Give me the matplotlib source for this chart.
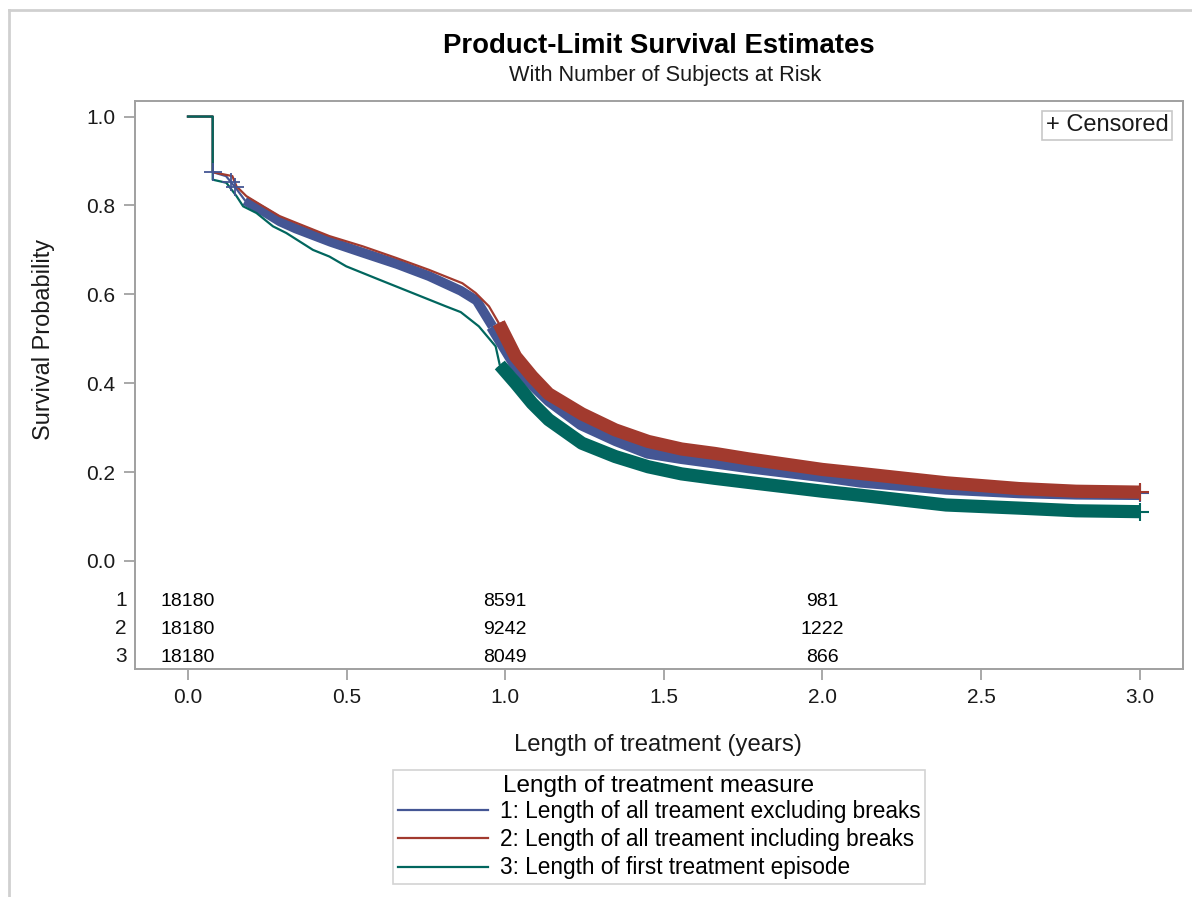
import numpy as np
import matplotlib.pyplot as plt
from matplotlib.lines import Line2D

plt.rcParams['font.family'] = ['Liberation Sans', 'DejaVu Sans']

# survival curves (time in years, survival probability)
t1 = [0.0, 0.078, 0.078, 0.12, 0.15, 0.18, 0.24, 0.29, 0.34, 0.45, 0.55, 0.66, 0.76, 0.86, 0.91,
      0.96, 1.03, 1.085, 1.14, 1.24, 1.35, 1.45, 1.556, 1.661, 1.77, 2.0, 2.12, 2.39, 2.62, 2.8, 3.0]
s1 = [1.0, 1.0, 0.875, 0.866, 0.84, 0.811, 0.786, 0.764, 0.748, 0.718, 0.694, 0.668, 0.641, 0.608, 0.586,
      0.528, 0.446, 0.400, 0.362, 0.309, 0.273, 0.245, 0.233, 0.223, 0.212, 0.192, 0.180, 0.164, 0.156, 0.153, 0.152]

t2 = [0.0, 0.078, 0.078, 0.14, 0.153, 0.184, 0.237, 0.289, 0.341, 0.446, 0.551, 0.656, 0.76, 0.865, 0.907,
      0.949, 0.98, 1.033, 1.085, 1.137, 1.242, 1.347, 1.451, 1.556, 1.661, 1.765, 2.0, 2.12, 2.39, 2.62, 2.8, 3.0]
s2 = [1.0, 1.0, 0.875, 0.866, 0.843, 0.821, 0.798, 0.776, 0.761, 0.731, 0.708, 0.682, 0.655, 0.625, 0.603,
      0.573, 0.535, 0.460, 0.415, 0.376, 0.331, 0.295, 0.269, 0.252, 0.242, 0.230, 0.206, 0.197, 0.176, 0.163, 0.157, 0.155]

t3 = [0.0, 0.078, 0.078, 0.121, 0.153, 0.174, 0.216, 0.268, 0.31, 0.394, 0.446, 0.499, 0.603, 0.708, 0.813,
      0.86, 0.917, 0.97, 0.983, 1.033, 1.085, 1.137, 1.242, 1.347, 1.451, 1.556, 1.661, 1.765, 2.0, 2.12, 2.39, 2.62, 2.8, 3.0]
s3 = [1.0, 1.0, 0.858, 0.851, 0.821, 0.798, 0.783, 0.753, 0.738, 0.700, 0.685, 0.663, 0.633, 0.603, 0.573,
      0.560, 0.528, 0.483, 0.441, 0.400, 0.355, 0.318, 0.265, 0.235, 0.212, 0.196, 0.186, 0.177, 0.157, 0.148, 0.126, 0.119, 0.113, 0.111]

# where the dense censoring marks begin / get thicker for each group
band_start = [0.18, 0.98, 0.983]
band_thick = [0.95, 0.98, 0.983]
early_censor_t1 = [0.078, 0.135, 0.148]

labels = ['1: Length of all treament excluding breaks',
          '2: Length of all treament including breaks',
          '3: Length of first treatment episode']
colors = ['#445694', '#A23A2E', '#01665E']

risk_times = [0, 1, 2]
at_risk = [[18180, 8591, 981],
           [18180, 9242, 1222],
           [18180, 8049, 866]]
risk_rows = [-0.090, -0.153, -0.216]

fig = plt.figure(figsize=(11.92, 8.97), dpi=100)
ax = fig.add_axes([135 / 1192, 1 - 669 / 897, (1183 - 135) / 1192, (669 - 101) / 897])

curves = [(t1, s1), (t2, s2), (t3, s3)]
for i, (t, s) in enumerate(curves):
    t = np.array(t)
    s = np.array(s)
    ax.plot(t, s, color=colors[i], lw=1.6, label=labels[i], zorder=3 + i)
    m = (t >= band_start[i]) & (t <= band_thick[i] + 0.06)
    if m.sum() > 1:
        ax.plot(t[m], s[m], color=colors[i], lw=7, solid_capstyle='butt', zorder=3 + i)
    m = t >= band_thick[i]
    ax.plot(t[m], s[m], color=colors[i], lw=9.5, solid_capstyle='butt', zorder=3 + i)
    ax.plot(t[-1:], s[-1:], marker='+', ms=13, mew=1.5, color=colors[i], zorder=3 + i)

ax.plot(early_censor_t1, np.interp(early_censor_t1, t1[2:], s1[2:]), ls='none', marker='+',
        ms=13, mew=1.3, color=colors[0], zorder=6)

ax.set_xlim(-0.167, 3.137)
ax.set_ylim(-0.243, 1.035)
ax.set_xticks([0, 0.5, 1, 1.5, 2, 2.5, 3])
ax.set_xticklabels(['0.0', '0.5', '1.0', '1.5', '2.0', '2.5', '3.0'])
ax.set_yticks([0, 0.2, 0.4, 0.6, 0.8, 1.0])
ax.set_yticklabels(['0.0', '0.2', '0.4', '0.6', '0.8', '1.0'])
ax.tick_params(length=8, width=1.2, color='#9a9a9a', labelsize=15, pad=6, labelcolor='#1a1a1a')
for sp in ax.spines.values():
    sp.set_color('#a0a0a0')
    sp.set_linewidth(1.4)

# at-risk table
for i in range(3):
    ax.annotate(str(i + 1), xy=(0, risk_rows[i]), xycoords=('axes fraction', 'data'),
                xytext=(-6, 0), textcoords='offset points', ha='right', va='center',
                fontsize=15, color='#1a1a1a')
    for j, tt in enumerate(risk_times):
        ax.text(tt, risk_rows[i], str(at_risk[i][j]), ha='center', va='center',
                fontsize=14, color='black')

ax.text(0.986, 0.957, '+ Censored', transform=ax.transAxes, ha='right', va='center',
        fontsize=17, color='#1a1a1a',
        bbox=dict(boxstyle='square,pad=0.15', fc='white', ec='#c8c8c8', lw=1.2))

fig.text(659 / 1192, 1 - 46 / 897, 'Product-Limit Survival Estimates', ha='center', va='center',
         fontsize=19.8, fontweight='bold')
fig.text(665 / 1192, 1 - 75 / 897, 'With Number of Subjects at Risk', ha='center', va='center',
         fontsize=15.7, color='#1a1a1a')
fig.text(658 / 1192, 1 - 745 / 897, 'Length of treatment (years)', ha='center', va='center',
         fontsize=17.2, color='#1a1a1a')
fig.text(44 / 1192, 1 - 339 / 897, 'Survival Probability', ha='center', va='center',
         rotation=90, fontsize=16.9, color='#1a1a1a')

leg = fig.legend(loc='upper center', bbox_to_anchor=(659 / 1192, 1 - 759 / 897),
                 title='Length of treatment measure', fontsize=16.3, title_fontsize=17.5,
                 handlelength=4.0, handletextpad=0.5, labelspacing=0.24,
                 borderpad=0.2, frameon=True, fancybox=False, edgecolor='#c8c8c8')
for h in leg.legend_handles:
    h.set_linewidth(1.6)
leg.get_frame().set_linewidth(1.2)
leg._legend_box.sep = 2

# outer border of the graph area
fig.add_artist(Line2D([9 / 1192, 9 / 1192], [0, 1 - 10 / 897], transform=fig.transFigure,
                      color='#d0d0d0', lw=2))
fig.add_artist(Line2D([9 / 1192, 1], [1 - 10 / 897, 1 - 10 / 897], transform=fig.transFigure,
                      color='#d0d0d0', lw=2))

fig.savefig('out.png', dpi=100)
